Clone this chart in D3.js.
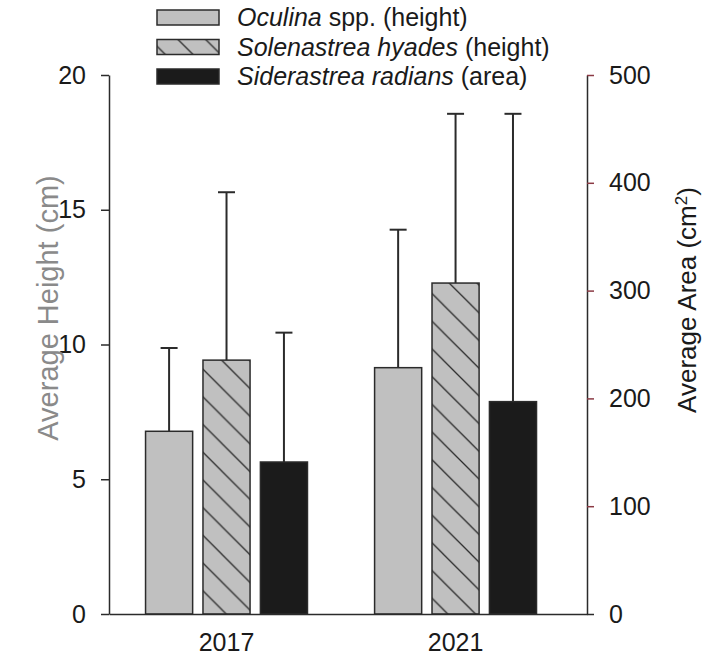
<!DOCTYPE html>
<html>
<head>
<meta charset="utf-8">
<script src="https://cdn.jsdelivr.net/npm/d3@7"></script>
<style>
  html, body { margin: 0; padding: 0; background: #fff; }
  svg { display: block; font-family: "Liberation Sans", Arial, sans-serif; }
</style>
</head>
<body>
<svg id="chart" width="706" height="656"></svg>
<script>
// Survey years and coral series
const years = ["2017", "2021"];
const seriesKeys = ["oculina", "solenastrea", "siderastrea"];

// Average colony height (cm) with standard deviation
const oculinaMean = [6.78, 9.14];
const oculinaSD = [3.09, 5.12];
const solenastreaMean = [9.42, 12.28];
const solenastreaSD = [6.23, 6.28];

// Average colony area (cm^2) with standard deviation
const siderastreaMean = [141, 197];
const siderastreaSD = [120, 267];

// Axis ticks
const heightTicks = [0, 5, 10, 15, 20];
const areaTicks = [0, 100, 200, 300, 400, 500];

// Legend entries: italic name + plain suffix
const legendNames = ["Oculina", "Solenastrea hyades", "Siderastrea radians"];
const legendSuffix = [" spp. (height)", " (height)", " (area)"];

const svg = d3.select("#chart");
const ink = "#2b2b2b";
const gray = "#c0c0c0";
const black = "#1b1b1b";
const labelSize = "25px";

const plot = { left: 109, right: 587, top: 75, bottom: 614 };

const yHeight = d3.scaleLinear().domain([0, 20]).range([plot.bottom, plot.top]);
const yArea = d3.scaleLinear().domain([0, 500]).range([plot.bottom, plot.top]);

const x0 = d3.scaleBand().domain(years).range([plot.left, plot.right])
  .paddingInner(0.293).paddingOuter(0.19).align(0.42);
const x1 = d3.scaleBand().domain(seriesKeys).range([0, x0.bandwidth()])
  .paddingInner(0.18).paddingOuter(0);

// Diagonal hatch pattern
const P = 27.7;
const defs = svg.append("defs");
const pat = defs.append("pattern").attr("id", "hatch")
  .attr("patternUnits", "userSpaceOnUse").attr("width", P).attr("height", P);
pat.append("rect").attr("width", P).attr("height", P).attr("fill", gray);
pat.append("path")
  .attr("d", `M-2,-2L${P + 2},${P + 2}M${P - 2},-2L${P + 2},2M-2,${P - 2}L2,${P + 2}`)
  .attr("stroke", ink).attr("stroke-width", 1.3).attr("fill", "none");

const fillFor = { oculina: gray, solenastrea: "url(#hatch)", siderastrea: black };

// Assemble bar records
const bars = [];
years.forEach((yr, i) => {
  bars.push({ year: yr, key: "oculina", mean: oculinaMean[i], sd: oculinaSD[i], y: yHeight });
  bars.push({ year: yr, key: "solenastrea", mean: solenastreaMean[i], sd: solenastreaSD[i], y: yHeight });
  bars.push({ year: yr, key: "siderastrea", mean: siderastreaMean[i], sd: siderastreaSD[i], y: yArea });
});

// Error bars (upper only)
const capW = 17;
const err = svg.append("g").attr("stroke", ink).attr("stroke-width", 2);
bars.forEach(d => {
  const cx = x0(d.year) + x1(d.key) + x1.bandwidth() / 2;
  err.append("line").attr("x1", cx).attr("x2", cx)
    .attr("y1", d.y(d.mean)).attr("y2", d.y(d.mean + d.sd));
  err.append("line").attr("x1", cx - capW / 2).attr("x2", cx + capW / 2)
    .attr("y1", d.y(d.mean + d.sd)).attr("y2", d.y(d.mean + d.sd));
});

// Bars
svg.append("g").selectAll("rect").data(bars).join("rect")
  .attr("x", d => x0(d.year) + x1(d.key))
  .attr("width", x1.bandwidth())
  .attr("y", d => d.y(d.mean))
  .attr("height", d => plot.bottom - d.y(d.mean))
  .attr("fill", d => fillFor[d.key])
  .attr("stroke", ink).attr("stroke-width", 1.5);

// Left axis (height)
const gl = svg.append("g").attr("transform", `translate(${plot.left},0)`)
  .call(d3.axisLeft(yHeight).tickValues(heightTicks).tickSize(8).tickSizeOuter(0).tickPadding(15));
gl.select(".domain").attr("stroke", ink).attr("stroke-width", 1.5);
gl.selectAll(".tick line").attr("stroke", ink).attr("stroke-width", 1.5);
gl.selectAll(".tick text").attr("fill", "#1a1a1a").style("font-size", labelSize).attr("font-family", null);

// Right axis (area)
const gr = svg.append("g").attr("transform", `translate(${plot.right},0)`)
  .call(d3.axisRight(yArea).tickValues(areaTicks).tickSize(7).tickSizeOuter(0).tickPadding(15));
gr.select(".domain").attr("stroke", ink).attr("stroke-width", 1.5);
gr.selectAll(".tick line").attr("stroke", "#8b3a44").attr("stroke-width", 1.5);
gr.selectAll(".tick").filter(d => d === 0).select("line").attr("stroke", ink);
gr.selectAll(".tick text").attr("fill", "#1a1a1a").style("font-size", labelSize).attr("font-family", null);

// Bottom axis
const gb = svg.append("g").attr("transform", `translate(0,${plot.bottom})`)
  .call(d3.axisBottom(x0).tickSize(0).tickSizeOuter(0).tickPadding(19));
gb.select(".domain").attr("stroke", ink).attr("stroke-width", 1.5);
gb.selectAll(".tick text").attr("fill", "#1a1a1a").style("font-size", labelSize).attr("font-family", null);

// Axis titles
svg.append("text")
  .attr("transform", "translate(58,308) rotate(-90)")
  .attr("text-anchor", "middle").attr("fill", "#8a8a8a")
  .style("font-size", "29px")
  .text("Average Height (cm)");

const rt = svg.append("text")
  .attr("transform", "translate(696,300) rotate(-90)")
  .attr("text-anchor", "middle").attr("fill", "#1a1a1a")
  .style("font-size", "26px");
rt.append("tspan").text("Average Area (cm");
rt.append("tspan").attr("baseline-shift", "super").style("font-size", "17px").text("2");
rt.append("tspan").text(")");

// Legend
const legend = svg.append("g");
const rowY = [26, 55.5, 85];
seriesKeys.forEach((k, i) => {
  legend.append("rect")
    .attr("x", 157).attr("y", rowY[i] - 16).attr("width", 62).attr("height", 15)
    .attr("fill", fillFor[k]).attr("stroke", ink).attr("stroke-width", 1.5);
  const t = legend.append("text").attr("x", 237).attr("y", rowY[i])
    .attr("fill", "#1a1a1a").style("font-size", labelSize);
  t.append("tspan").style("font-style", "italic").text(legendNames[i]);
  t.append("tspan").text(legendSuffix[i]);
});
</script>
</body>
</html>
